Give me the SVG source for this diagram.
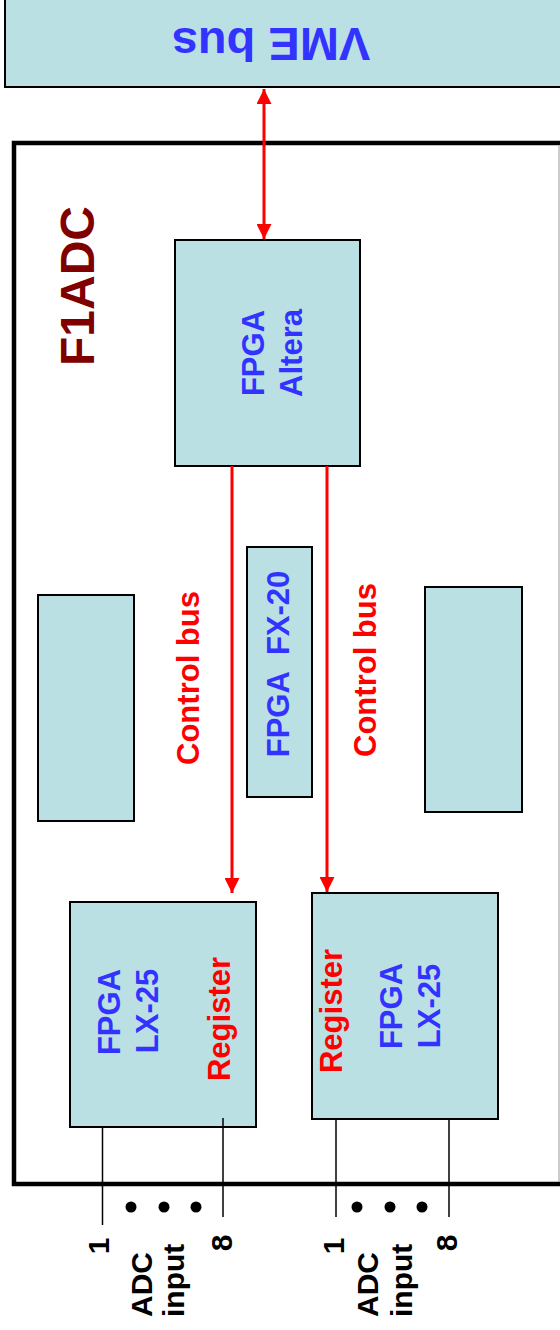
<svg xmlns="http://www.w3.org/2000/svg" width="560" height="1330" viewBox="0 0 560 1330">
<style>
.box{fill:#bbe0e3;stroke:#000;stroke-width:2}
.t{font-family:"Liberation Sans",Arial,sans-serif;font-weight:bold;font-size:31px}
.blue{fill:#3333ff}
.red{fill:#ff0000}
.lbl{font-family:"Liberation Sans",Arial,sans-serif;font-weight:bold;font-size:30px;fill:#000}
.bus{stroke:#ff0000;stroke-width:3;fill:none}
.pin{stroke:#000;stroke-width:1.5}
</style>
<defs>
<marker id="ah" viewBox="0 0 10 10" refX="10" refY="5" markerWidth="5" markerHeight="5" markerUnits="strokeWidth" orient="auto-start-reverse">
<path d="M0,0 L10,5 L0,10 Z" fill="#ff0000"/>
</marker>
</defs>
<g id="vme">
<rect class="box" x="5" y="-10" width="570" height="97"/>
<text class="t blue" style="font-size:47px" text-anchor="middle" transform="translate(271,28) rotate(180)">VME bus</text>
</g>
<g id="board">
<rect x="14" y="143" width="560" height="1041" fill="#fff" stroke="#000" stroke-width="4.5"/>
<line x1="559" y1="146" x2="559" y2="1182" stroke="#999" stroke-width="1"/>
<text class="t" style="font-size:48px;fill:#800000" text-anchor="middle" transform="translate(94,286) rotate(-90)">F1ADC</text>
</g>
<g id="altera">
<rect class="box" x="175" y="240" width="185" height="226"/>
<text class="t blue" text-anchor="middle" transform="translate(264,353) rotate(-90)">FPGA</text>
<text class="t blue" text-anchor="middle" transform="translate(302,353) rotate(-90)">Altera</text>
</g>
<g id="fx20">
<rect class="box" x="247" y="547" width="65" height="250"/>
<text class="t blue" text-anchor="middle" xml:space="preserve" transform="translate(289,664) rotate(-90)">FPGA  FX-20</text>
</g>
<g id="blank-left">
<rect class="box" x="38" y="595" width="96" height="226"/>
</g>
<g id="blank-right">
<rect class="box" x="425" y="587" width="97" height="225"/>
</g>
<g id="lx25-left">
<rect class="box" x="70" y="902" width="186" height="225"/>
<text class="t blue" text-anchor="middle" transform="translate(120,1012) rotate(-90)">FPGA</text>
<text class="t blue" text-anchor="middle" transform="translate(158,1011) rotate(-90)">LX-25</text>
<text class="t red" text-anchor="middle" transform="translate(230,1019) rotate(-90)">Register</text>
</g>
<g id="lx25-right">
<rect class="box" x="312" y="893" width="186" height="226"/>
<text class="t red" text-anchor="middle" transform="translate(342,1011) rotate(-90)">Register</text>
<text class="t blue" text-anchor="middle" transform="translate(402,1006) rotate(-90)">FPGA</text>
<text class="t blue" text-anchor="middle" transform="translate(440,1006) rotate(-90)">LX-25</text>
</g>
<g id="connectors">
<line class="bus" x1="264" y1="89" x2="264" y2="239" marker-start="url(#ah)" marker-end="url(#ah)"/>
<line class="bus" x1="232" y1="466" x2="232" y2="893" marker-end="url(#ah)"/>
<line class="bus" x1="327" y1="466" x2="327" y2="892" marker-end="url(#ah)"/>
<text class="t red" text-anchor="middle" transform="translate(199,678) rotate(-90)">Control bus</text>
<text class="t red" text-anchor="middle" transform="translate(376,670) rotate(-90)">Control bus</text>
<line class="pin" x1="102.5" y1="1127" x2="102.5" y2="1225"/>
<line class="pin" x1="223" y1="1118" x2="223" y2="1217"/>
<line class="pin" x1="336" y1="1119" x2="336" y2="1217"/>
<line class="pin" x1="449" y1="1119" x2="449" y2="1217"/>
</g>
<g id="inputs">
<circle cx="131" cy="1207" r="5.5"/>
<circle cx="164" cy="1207" r="5.5"/>
<circle cx="196" cy="1207" r="5.5"/>
<circle cx="357" cy="1207" r="5.5"/>
<circle cx="390" cy="1207" r="5.5"/>
<circle cx="422" cy="1207" r="5.5"/>
<text class="lbl" text-anchor="middle" transform="translate(109,1246) rotate(-90)">1</text>
<text class="lbl" transform="translate(152,1317) rotate(-90)">ADC</text>
<text class="lbl" transform="translate(184,1317) rotate(-90)">input</text>
<text class="lbl" text-anchor="middle" transform="translate(232,1243) rotate(-90)">8</text>
<text class="lbl" text-anchor="middle" transform="translate(344,1246) rotate(-90)">1</text>
<text class="lbl" transform="translate(378,1317) rotate(-90)">ADC</text>
<text class="lbl" transform="translate(412,1317) rotate(-90)">input</text>
<text class="lbl" text-anchor="middle" transform="translate(457,1243) rotate(-90)">8</text>
</g>
</svg>
